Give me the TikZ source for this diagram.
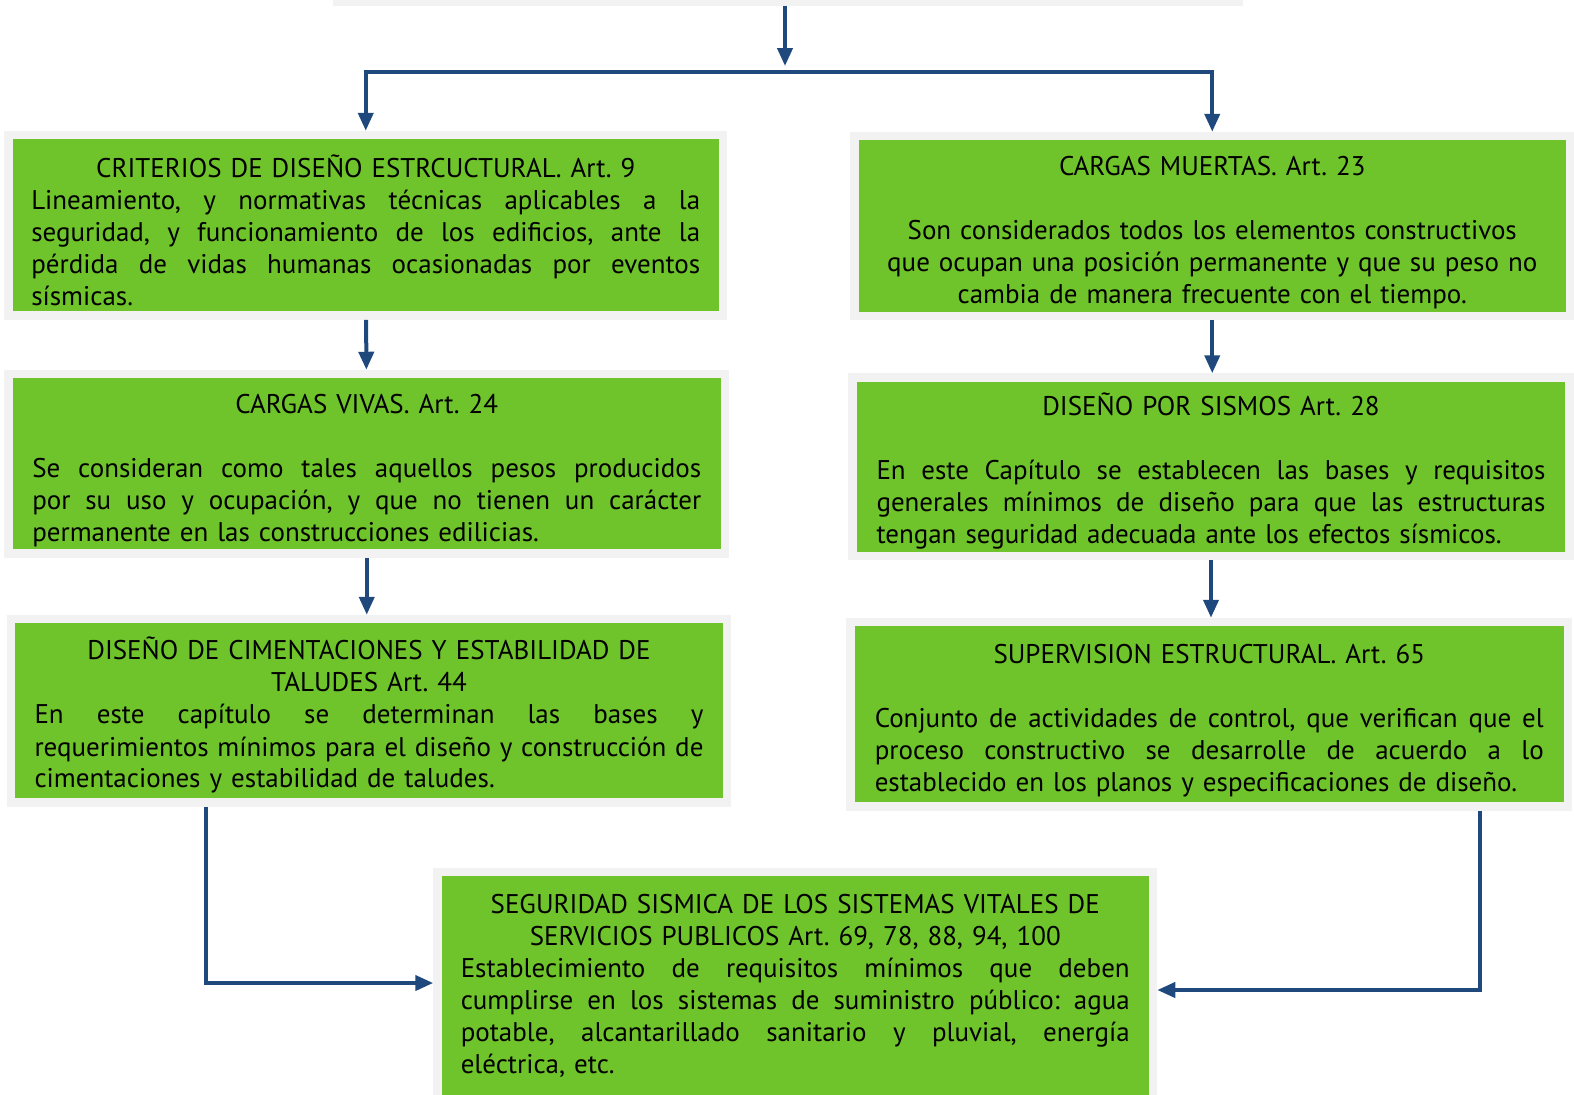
\documentclass[tikz,border=0pt]{standalone}
\usepackage{fontspec}
\setmainfont{PT Sans}
\usetikzlibrary{arrows.meta, positioning, calc}
\definecolor{cardGreen}{RGB}{110, 196, 42}
\definecolor{frameGray}{RGB}{242, 242, 242}
\definecolor{flowBlue}{RGB}{31, 73, 125}
\definecolor{shadowGray}{RGB}{160, 160, 160}
\newcommand{\fillline}[1]{\makebox[\hsize][s]{\spaceskip=0pt\xspaceskip=0pt\relax #1}}
\newcommand{\restline}[1]{\makebox[\hsize][l]{#1}}

\begin{document}
\begin{tikzpicture}[
    x=0.5pt, y=-0.5pt,
    card/.style={
      rectangle, draw=frameGray, fill=cardGreen, line width=4.25pt,
      text width=334.5pt, align=center, inner sep=0pt,
      font=\fontsize{13.5}{16}\selectfont\frenchspacing,
      execute at begin node={\xspaceskip=0pt\rule{0pt}{16pt}}
    },
    flow/.style={
      draw=flowBlue, line width=2pt, -{Triangle[length=9pt, width=7.5pt]}
    },
  ]
    \useasboundingbox (0,0) rectangle (1574,1094);

    \node[card, minimum width=451pt, minimum height=51pt] (root) at (788,-49) {};

    \node[card, minimum width=357.25pt, minimum height=90.25pt] (b1) at (365.75,225.25) {
      CRITERIOS DE DISEÑO ESTRCUCTURAL. Art. 9\\
      \fillline{Lineamiento, y normativas técnicas aplicables a la}\\
      \fillline{seguridad, y funcionamiento de los edificios, ante la}\\
      \fillline{pérdida de vidas humanas ocasionadas por eventos}\\
      \restline{sísmicas.}};
    \node[card, minimum width=357.75pt, minimum height=90pt] (b2) at (1212.25,226) {
      CARGAS MUERTAS. Art. 23\\[16pt]
      Son considerados todos los elementos constructivos\\
      que ocupan una posición permanente y que su peso no\\
      cambia de manera frecuente con el tiempo.};
    \node[card, minimum width=358.25pt, minimum height=89.75pt] (b3) at (366.75,463.75) {
      CARGAS VIVAS. Art. 24\\[16pt]
      \fillline{Se consideran como tales aquellos pesos producidos}\\
      \fillline{por su uso y ocupación, y que no tienen un carácter}\\
      \restline{permanente en las construcciones edilicias.}};
    \node[card, minimum width=358.5pt, minimum height=89.25pt] (b4) at (1211,466.75) {
      DISEÑO POR SISMOS Art. 28\\[16pt]
      \fillline{En este Capítulo se establecen las bases y requisitos}\\
      \fillline{generales mínimos de diseño para que las estructuras}\\
      \restline{tengan seguridad adecuada ante los efectos sísmicos.}};
    \node[card, minimum width=358pt, minimum height=91.75pt] (b5) at (369,710.75) {
      DISEÑO DE CIMENTACIONES Y ESTABILIDAD DE\\
      TALUDES Art. 44\\
      \fillline{En este capítulo se determinan las bases y}\\
      \fillline{requerimientos mínimos para el diseño y construcción de}\\
      \restline{cimentaciones y estabilidad de taludes.}};
    \node[card, minimum width=358.75pt, minimum height=92.25pt] (b6) at (1209.25,714.25) {
      SUPERVISION ESTRUCTURAL. Art. 65\\[16pt]
      \fillline{Conjunto de actividades de control, que verifican que el}\\
      \fillline{proceso constructivo se desarrolle de acuerdo a lo}\\
      \restline{establecido en los planos y especificaciones de diseño.}};
    \node[card, minimum width=357.75pt, minimum height=119pt] (b7) at (795.25,991) {
      SEGURIDAD SISMICA DE LOS SISTEMAS VITALES DE\\
      SERVICIOS PUBLICOS Art. 69, 78, 88, 94, 100\\
      \fillline{Establecimiento de requisitos mínimos que deben}\\
      \fillline{cumplirse en los sistemas de suministro público: agua}\\
      \fillline{potable, alcantarillado sanitario y pluvial, energía}\\
      \restline{eléctrica, etc.\rule[-14pt]{0pt}{0pt}}};

    % top split
    \coordinate (split) at (785,72);
    \draw[flow, shorten >=3pt] (root.south -| split) -- (split);
    \draw[flow] (split) -| (b1.north);
    \draw[flow] (split) -| (b2.north);

    % down the columns
    \draw[flow] (b1) -- (b3);
    \draw[flow] (b3.south) -- (b3.south |- b5.north);
    \draw[flow] (b2.south) -- (b2.south |- b4.north);
    \draw[flow] (b4.south) -- (b4.south |- b6.north);

    % into the last box
    \coordinate (elbowL) at (206,983);
    \coordinate (elbowR) at (1480,990);
    \draw[flow] (b5.south -| elbowL) -- (elbowL) -- (elbowL -| b7.west);
    \draw[flow] (b6.south -| elbowR) -- (elbowR) -- (elbowR -| b7.east);
  \end{tikzpicture}
\end{document}
